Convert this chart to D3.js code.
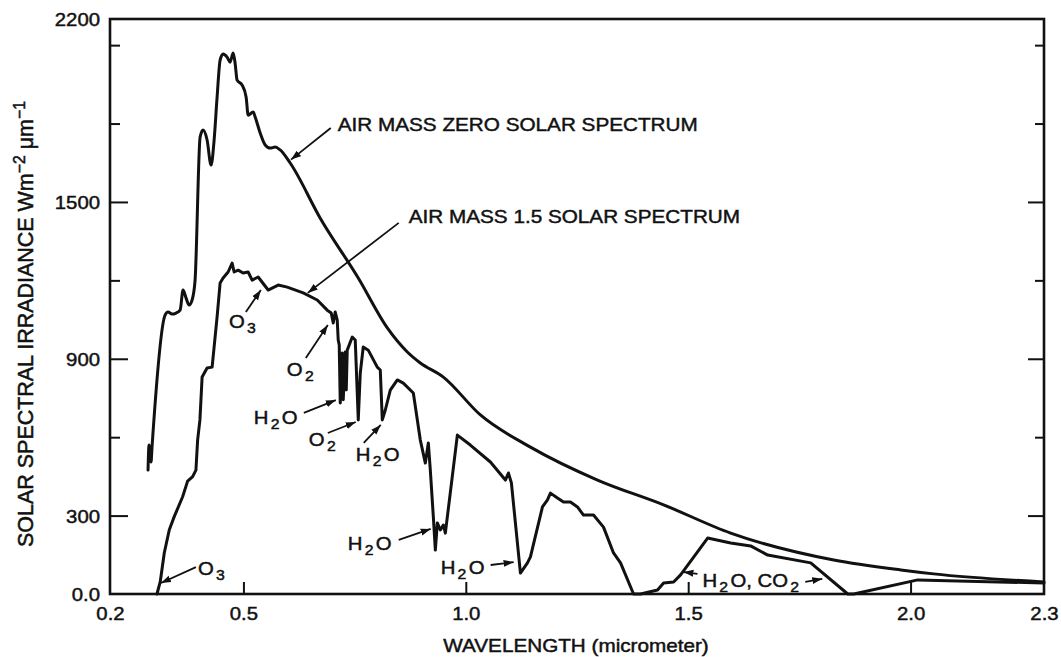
<!DOCTYPE html>
<html><head><meta charset="utf-8">
<script src="https://cdn.jsdelivr.net/npm/d3@7"></script>
<style>
body{margin:0;background:#fff}
svg{display:block}
text{font-family:"Liberation Sans",Arial,Helvetica,sans-serif;fill:#111;stroke:#111;stroke-width:0.45px}
</style>
</head><body>
<svg id="c" width="1061" height="657"></svg>
<script>
// ---- data (wavelength in micrometer, irradiance in W m^-2 um^-1) ----
const am0Wavelength = [0.2855,0.2878,0.2923,0.2945,0.3238,0.3305,0.3395,0.3485,0.3576,0.3643,0.3711,0.3778,0.3846,0.3913,0.4026,0.4093,0.4183,0.4273,0.4341,0.4408,0.4476,0.4543,0.4633,0.4701,0.4768,0.4813,0.4858,0.4971,0.5061,0.5106,0.5219,0.5264,0.5376,0.5489,0.5601,0.5714,0.5826,0.6051,0.6727,0.7582,0.8235,0.8685,0.8977,0.9495,1.0328,1.1453,1.2961,1.4447,1.5955,1.8273,1.978,2.052,2.30];
const am0Irradiance = [474,570,505,562,1067,1079,1071,1075,1086,1163,1132,1106,1125,1201,1748,1775,1737,1641,1737,1901,2043,2066,2054,2035,2070,2031,1966,1947,1901,1832,1844,1825,1764,1718,1706,1710,1699,1649,1438,1209,1018,926,884,830,685,562,436,341,233,130,92,77,46];

const am15Wavelength = [0.3056,0.3130,0.3220,0.3332,0.3444,0.3633,0.3745,0.3858,0.3932,0.3970,0.4022,0.4071,0.4183,0.4296,0.4408,0.4476,0.4543,0.4656,0.4746,0.4791,0.4881,0.4993,0.5106,0.5196,0.5331,0.5556,0.5781,0.5984,0.6344,0.6659,0.6884,0.6974,0.7019,0.7064,0.7109,0.7131,0.7154,0.7177,0.7222,0.7244,0.7289,0.7312,0.7334,0.7447,0.7514,0.7582,0.7627,0.7694,0.7807,0.8009,0.8077,0.8122,0.8190,0.8302,0.8460,0.8595,0.8820,0.8977,0.9090,0.9157,0.9202,0.9270,0.9315,0.9360,0.9427,0.9495,0.9540,0.9810,1.0102,1.0553,1.0890,1.0958,1.1025,1.1228,1.1386,1.1453,1.1723,1.1836,1.1903,1.2061,1.2196,1.2353,1.2511,1.2646,1.2871,1.3096,1.3321,1.3479,1.3771,1.3929,1.4311,1.4447,1.4672,1.4829,1.5437,1.5955,1.6405,1.6787,1.7755,1.8588,1.8723,2.0163,2.30];
const am15Irradiance = [0,47,157,245,296,372,432,449,474,589,666,830,865,868,1060,1190,1209,1232,1266,1232,1239,1228,1232,1201,1213,1163,1182,1174,1152,1125,1086,1075,1037,1079,1048,972,953,731,922,743,926,781,933,983,972,666,845,945,933,868,857,666,704,780,819,807,769,589,501,578,474,295,168,272,245,264,233,608,570,505,436,463,425,80,119,142,333,360,386,367,352,352,333,302,302,256,157,119,0,0,15,42,46,73,214,195,184,149,119,0,0,54,42];

// ---- axis ticks ----
const xTickValues = [0.2,0.5,1.0,1.5,2.0,2.3];
const xTickLabels = ["0.2","0.5","1.0","1.5","2.0","2.3"];
const yTickValues = [0,300,600,900,1200,1500,1800,2100,2200];
const yTickLabels = ["0.0","300","","900","","1500","","","2200"];
const yRightTickValues = [300,600,900,1200,1500,1800,2100];

const xTitle = "WAVELENGTH (micrometer)";
const yTitle = ["SOLAR SPECTRAL IRRADIANCE Wm","−2"," μm","−1"];

// ---- annotations (data coordinates) ----
const annotationLabels = ["AIR MASS ZERO SOLAR SPECTRUM","AIR MASS 1.5 SOLAR SPECTRUM","O_3","O_2","H_2O","O_2","H_2O","H_2O","H_2O","H_2O, CO_2","O_3"];
const annotationTextWl = [0.712,0.8716,0.4673,0.5976,0.5234,0.647,0.7526,0.7346,0.9435,1.532,0.3977];
const annotationTextVal = [1771,1420,1018,834,650,566,509,168,77,27,73];
const arrowFromWl = [0.6964,0.8492,0.5055,0.6403,0.6358,0.6897,0.7705,0.8492,1.0558,1.7633,1.5208,0.3932];
const arrowFromVal = [1783,1420,1079,903,693,616,578,207,111,46,77,103];
const arrowToWl = [0.607,0.6447,0.5392,0.6897,0.7077,0.7526,0.8087,0.921,1.1075,1.8015,1.4893,0.3146];
const arrowToVal = [1662,1152,1163,1029,742,658,647,249,122,58,84,42];

// ---- drawing ----
const svg = d3.select("#c");
const x = d3.scaleLinear().domain([0.2,2.3]).range([110,1044]);
const y = d3.scaleLinear().domain([0,2200]).range([594,19]);
const SX = 1.13; // horizontal stretch of lettering

svg.append("defs").append("marker")
  .attr("id","ah").attr("markerUnits","userSpaceOnUse")
  .attr("markerWidth",11).attr("markerHeight",8)
  .attr("refX",10).attr("refY",4).attr("orient","auto")
  .append("path").attr("d","M0,0.5 L10,4 L0,7.5 Z").attr("fill","#111");

// frame
svg.append("rect")
  .attr("x",x(0.2)).attr("y",y(2200))
  .attr("width",x(2.3)-x(0.2)).attr("height",y(0)-y(2200))
  .attr("fill","none").attr("stroke","#111").attr("stroke-width",2.6);

// left axis
const yl = svg.append("g").attr("transform",`translate(${x(0.2)},0)`)
  .call(d3.axisLeft(y).tickValues(yTickValues).tickSizeInner(-18).tickSizeOuter(0).tickPadding(0)
        .tickFormat((d,i)=>yTickLabels[i]));
yl.select(".domain").remove();
yl.selectAll(".tick line").attr("stroke","#111").attr("stroke-width",2)
  .attr("x2",(d,i)=> (d===0||d===2200) ? 0 : (yTickLabels[i] ? 18 : 10));
yl.selectAll(".tick text").attr("x",0).attr("dy","0.36em")
  .attr("transform",`translate(-10,0) scale(${SX},1)`)
  .style("font-size","18px").style("font-family",'"Liberation Sans",Arial,sans-serif').attr("fill","#111");

// right axis ticks
const yr = svg.append("g").attr("transform",`translate(${x(2.3)},0)`)
  .call(d3.axisRight(y).tickValues(yRightTickValues).tickSizeInner(-16).tickSizeOuter(0).tickFormat(""));
yr.select(".domain").remove();
yr.selectAll(".tick line").attr("stroke","#111").attr("stroke-width",2)
  .attr("x2",d => (d===900||d===1500||d===300) ? -16 : -9);

// bottom axis
const xb = svg.append("g").attr("transform",`translate(0,${y(0)})`)
  .call(d3.axisBottom(x).tickValues(xTickValues).tickSizeInner(-12).tickSizeOuter(0).tickPadding(0)
        .tickFormat((d,i)=>xTickLabels[i]));
xb.select(".domain").remove();
xb.selectAll(".tick line").attr("stroke","#111").attr("stroke-width",2)
  .attr("y2",d => (d===0.2||d===2.3) ? 0 : -12);
xb.selectAll(".tick text").attr("y",0).attr("dy","0")
  .attr("transform",`translate(0,26) scale(${SX},1)`)
  .style("font-size","18px").style("font-family",'"Liberation Sans",Arial,sans-serif').attr("fill","#111");

// axis titles
svg.append("text")
  .attr("transform",`translate(576,652) scale(1.15,1)`)
  .attr("text-anchor","middle").style("font-size","18px").text(xTitle);

const yt = svg.append("text")
  .attr("transform","translate(33,324) rotate(-90) scale(1.13,1.17)")
  .attr("text-anchor","middle").style("font-size","19px");
yt.append("tspan").text(yTitle[0]);
yt.append("tspan").attr("dy",-7).style("font-size","14px").text(yTitle[1]);
yt.append("tspan").attr("dy",7).text(yTitle[2]);
yt.append("tspan").attr("dy",-7).style("font-size","14px").text(yTitle[3]);

// curves: AM0 is a smooth trace, AM1.5 is drawn with straight segments
const am0 = am0Wavelength.map((w,i)=>[w,am0Irradiance[i]]);
const am15 = am15Wavelength.map((w,i)=>[w,am15Irradiance[i]]);
const smoothLine = d3.line().x(d=>x(d[0])).y(d=>y(d[1])).curve(d3.curveMonotoneX);
const straightLine = d3.line().x(d=>x(d[0])).y(d=>y(d[1])).curve(d3.curveLinear);
[[am0, smoothLine],[am15, straightLine]].forEach(([s,gen])=>{
  svg.append("path").datum(s).attr("d",gen)
    .attr("fill","none").attr("stroke","#111").attr("stroke-width",3)
    .attr("stroke-linejoin","round").attr("stroke-linecap","round");
});

// annotation arrows
arrowFromWl.forEach((w,i)=>{
  svg.append("line")
    .attr("x1",x(w)).attr("y1",y(arrowFromVal[i]))
    .attr("x2",x(arrowToWl[i])).attr("y2",y(arrowToVal[i]))
    .attr("stroke","#111").attr("stroke-width",1.8)
    .attr("marker-end","url(#ah)");
});

// annotation labels
annotationLabels.forEach((lab,i)=>{
  const big = i < 2;
  const t = svg.append("text")
    .attr("transform",`translate(${x(annotationTextWl[i])},${y(annotationTextVal[i])}) scale(${big?1.12:SX},1)`)
    .style("font-size", big ? "18.5px" : "18px");
  let sub = false;
  lab.split(/(_\d)/).filter(s=>s.length).forEach(s=>{
    if (s[0]==="_") {
      t.append("tspan").attr("dx",2).attr("dy",5).style("font-size","14px").text(s[1]);
      sub = true;
    } else {
      const ts = t.append("tspan").text(s);
      if (sub) { ts.attr("dy",-5).attr("dx",2); sub = false; }
    }
  });
});
</script>
</body></html>
